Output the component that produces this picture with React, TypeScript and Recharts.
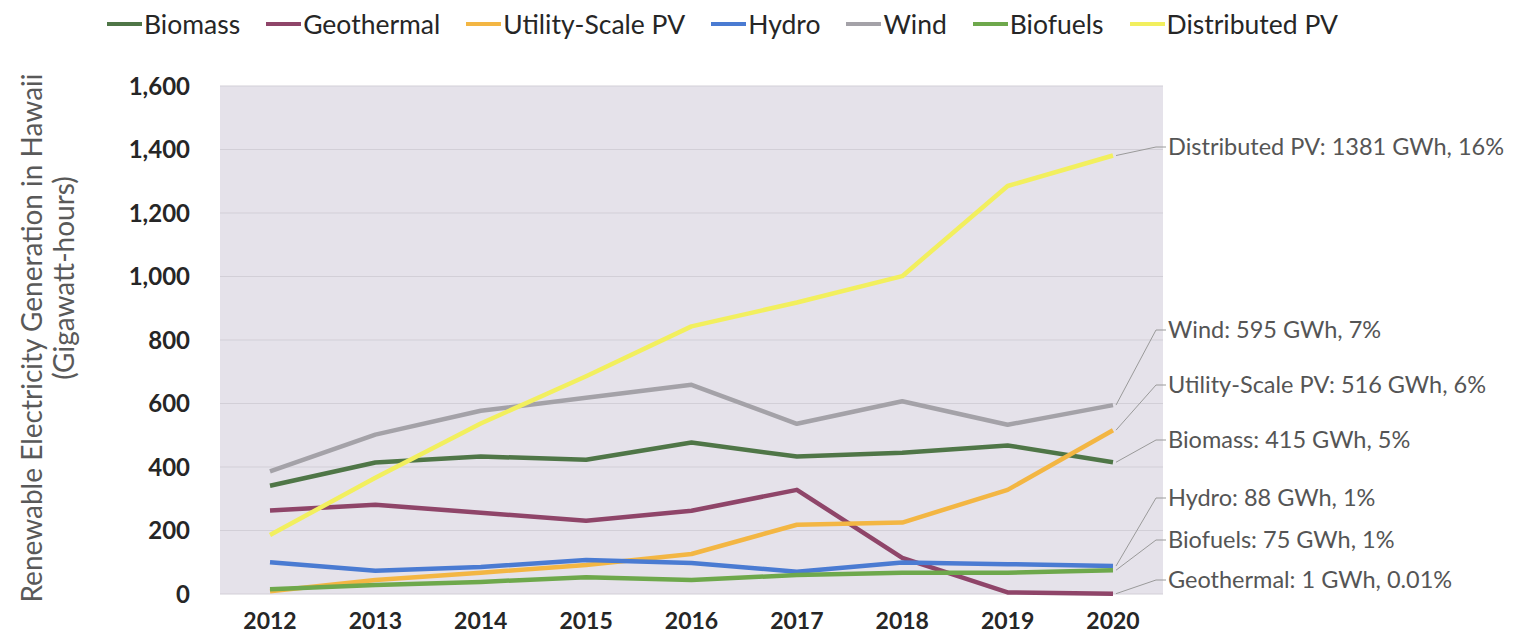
import React from 'react'
import { LineChart, Line, XAxis, YAxis, CartesianGrid, LabelList } from 'recharts'

const years = ['2012', '2013', '2014', '2015', '2016', '2017', '2018', '2019', '2020']

const biomass = [341, 414, 433, 423, 477, 433, 445, 468, 415]
const geothermal = [263, 281, 256, 231, 262, 328, 114, 5, 1]
const utilityPV = [9, 44, 67, 91, 126, 218, 225, 328, 516]
const hydro = [100, 73, 85, 107, 98, 70, 99, 94, 88]
const wind = [386, 502, 577, 618, 659, 536, 607, 533, 595]
const biofuels = [15, 28, 38, 53, 44, 60, 67, 67, 75]
const distributedPV = [186, 366, 537, 686, 843, 918, 1001, 1285, 1381]

const yTicks = [0, 200, 400, 600, 800, 1000, 1200, 1400, 1600]

// 2020 share of total generation, as printed in the callouts
const shares = {
  biomass: '5',
  geothermal: '0.01',
  utilityPV: '6',
  hydro: '1',
  wind: '7',
  biofuels: '1',
  distributedPV: '16',
}

const series = [
  { key: 'biomass', name: 'Biomass', values: biomass, color: '#4f7647' },
  { key: 'geothermal', name: 'Geothermal', values: geothermal, color: '#8f4569' },
  { key: 'utilityPV', name: 'Utility-Scale PV', values: utilityPV, color: '#f3b643' },
  { key: 'hydro', name: 'Hydro', values: hydro, color: '#4a7bd2' },
  { key: 'wind', name: 'Wind', values: wind, color: '#a4a2a8' },
  { key: 'biofuels', name: 'Biofuels', values: biofuels, color: '#6ea84c' },
  { key: 'distributedPV', name: 'Distributed PV', values: distributedPV, color: '#f2ef5e' },
]

// vertical position of each callout text on the right
const calloutY: Record<string, number> = {
  distributedPV: 147,
  wind: 330,
  utilityPV: 385,
  biomass: 440,
  hydro: 498,
  biofuels: 540,
  geothermal: 580,
}

const data = years.map((year, i) => {
  const row: Record<string, string | number> = { year }
  series.forEach(s => { row[s.key] = s.values[i] })
  return row
})

const FONT = 'Lato, "Open Sans", sans-serif'
const TEXT_X = 1168

function makeCallout(key: string, name: string) {
  return (props: any) => {
    const { x, y, index, value } = props
    if (index !== years.length - 1) return null
    const ly = calloutY[key]
    return (
      <g>
        <polyline
          points={`${x + 3},${y} ${TEXT_X - 12},${ly} ${TEXT_X - 2},${ly}`}
          fill="none"
          stroke="#9a9a9a"
          strokeWidth={1}
        />
        <text x={TEXT_X} y={ly} dy="0.35em" fontSize={23.5} fill="#555" fontFamily={FONT}>
          {`${name}: ${value} GWh, ${shares[key as keyof typeof shares]}%`}
        </text>
      </g>
    )
  }
}

function ChartLegend() {
  return (
    <div
      style={{
        position: 'absolute',
        top: 9,
        left: 107,
        display: 'flex',
        alignItems: 'center',
        fontFamily: FONT,
        fontSize: 26.5,
        lineHeight: '30px',
        color: '#262626',
      }}
    >
      {series.map(s => (
        <div key={s.key} style={{ display: 'flex', alignItems: 'center', marginRight: 26 }}>
          <span style={{ display: 'inline-block', width: 35, height: 4, background: s.color, marginRight: 2 }} />
          <span>{s.name}</span>
        </div>
      ))}
    </div>
  )
}

export default function App() {
  return (
    <div style={{ position: 'absolute', left: 0, top: 0, width: 1527, height: 641, background: '#fff' }}>
      <LineChart
        width={1527}
        height={641}
        data={data}
        margin={{ top: 86, right: 364, bottom: 0, left: 0 }}
      >
        <CartesianGrid vertical={false} fill="#e5e2ea" stroke="#d2cfd7" />
        <XAxis
          dataKey="year"
          height={47}
          padding={{ left: 50, right: 50 }}
          axisLine={false}
          tickLine={false}
          tickSize={0}
          tickMargin={19}
          tick={{ fontSize: 23, fontWeight: 700, fill: '#262626', fontFamily: FONT }}
        />
        <YAxis
          width={220}
          domain={[0, 1600]}
          ticks={yTicks}
          axisLine={false}
          tickLine={false}
          tickSize={0}
          tickMargin={30}
          tickFormatter={(v: number) => v.toLocaleString('en-US')}
          tick={{ fontSize: 24, fontWeight: 700, fill: '#262626', fontFamily: FONT }}
        />
        {series.map(s => (
          <Line
            key={s.key}
            type="linear"
            dataKey={s.key}
            name={s.name}
            stroke={s.color}
            strokeWidth={4.5}
            strokeLinejoin="round"
            dot={false}
            isAnimationActive={false}
          >
            <LabelList dataKey={s.key} content={makeCallout(s.key, s.name)} />
          </Line>
        ))}
      </LineChart>
      <ChartLegend />
      <svg width={100} height={641} style={{ position: 'absolute', left: 0, top: 0 }}>
        <text
          transform="translate(32, 338) rotate(-90)"
          textAnchor="middle"
          dy="0.35em"
          fontSize={28}
          fill="#595959"
          fontFamily={FONT}
        >
          Renewable Electricity Generation in Hawaii
        </text>
        <text
          transform="translate(64, 278) rotate(-90)"
          textAnchor="middle"
          dy="0.35em"
          fontSize={28}
          fill="#595959"
          fontFamily={FONT}
        >
          (Gigawatt-hours)
        </text>
      </svg>
    </div>
  )
}
